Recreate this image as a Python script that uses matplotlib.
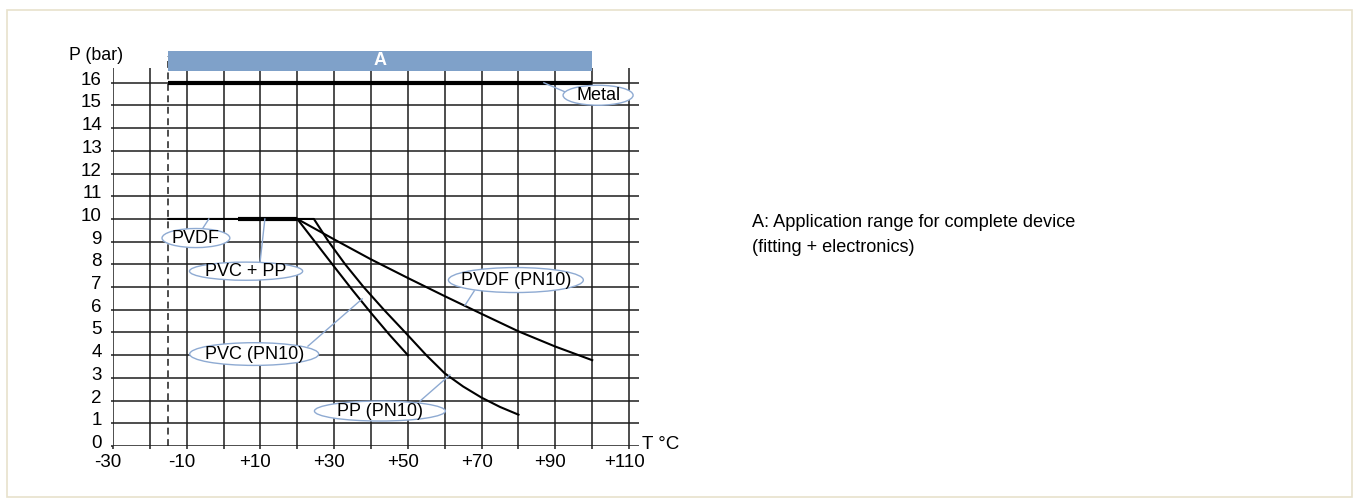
"""Pressure / temperature diagram for fitting materials."""

import matplotlib
matplotlib.use("Agg")

import matplotlib.pyplot as plt
from matplotlib.patches import Ellipse, Rectangle
from matplotlib.transforms import ScaledTranslation

plt.rcParams["font.family"] = ["Liberation Sans", "DejaVu Sans"]

# --- data (T in degC, P in bar) ---
metal_T = [-15, 100]
metal_P = [16, 16]

pvdf_T = [-15, 20, 30, 40, 50, 60, 70, 80, 90, 100]
pvdf_P = [10, 10, 9.1, 8.22, 7.4, 6.6, 5.82, 5.05, 4.38, 3.78]

pvc_pp_T = [4, 20]
pvc_pp_P = [10, 10]

pvc_T = [20, 25, 30, 35, 40, 45, 50]
pvc_P = [10, 8.95, 7.9, 6.86, 5.86, 4.9, 4.0]

pp_T = [20, 24.5, 28.5, 33, 38, 43.5, 49.3, 55, 60, 65, 70, 75, 80]
pp_P = [10, 10, 9.0, 8.0, 7.0, 6.0, 5.0, 4.0, 3.2, 2.62, 2.13, 1.72, 1.38]

range_A = [-15, 100]

x_ticks = list(range(-30, 111, 10))
x_labels = ["-30" if t == -30 else (f"{t:+d}" if (t + 30) % 20 == 0 else "") for t in x_ticks]
y_ticks = list(range(0, 17))

# --- label layout: text, centre (T, P), ellipse size, leader line ---
labels = [
    ("Metal", (101.6, 15.45), (19.0, 0.88), ((86.9, 16.0), (92.6, 15.6))),
    ("PVDF", (-7.5, 9.16), (18.4, 0.84), ((-4.0, 10.0), (-5.6, 9.6))),
    ("PVC + PP", (6.1, 7.7), (30.7, 0.8), ((11.2, 10.0), (9.9, 8.1))),
    ("PVC (PN10)", (8.3, 4.05), (35.0, 1.0), ((37.6, 6.48), (22.9, 4.4))),
    ("PP (PN10)", (42.4, 1.54), (35.5, 0.88), ((61.4, 3.13), (53.3, 1.98))),
    ("PVDF (PN10)", (79.3, 7.31), (36.6, 1.1), ((65.5, 6.2), (68.0, 6.83))),
]

GRID = "#1c1c1c"
BLUE = "#7fa1c9"
LEADER = "#8eaad2"

fig = plt.figure(figsize=(13.57, 5.0), dpi=100)
fig.patches.append(Rectangle((7 / 1357, 3 / 500), 1345 / 1357, 487 / 500,
                             transform=fig.transFigure, fill=False,
                             edgecolor="#e8e2cc", lw=1.2))

ax = fig.add_axes([113 / 1357, 1 - 446 / 500, 526 / 1357, 378 / 500])
ax.set_xlim(-30, 112.7)
ax.set_ylim(0, 16.65)

ax.set_xticks(x_ticks)
ax.set_xticklabels(x_labels)
ax.set_yticks(y_ticks)
ax.grid(True, color=GRID, lw=1.1)
ax.set_axisbelow(True)
for s in ax.spines.values():
    s.set_visible(False)
ax.tick_params(axis="x", length=2, width=1.1, color=GRID, pad=4, labelsize=13.5)
ax.tick_params(axis="y", length=1.5, width=1.1, color=GRID, pad=6.5, labelsize=13.5)

# tick labels sit a little off their grid lines in the original
xshift = ScaledTranslation(-5 / 100, 0, fig.dpi_scale_trans)
for lbl in ax.get_xticklabels():
    lbl.set_transform(lbl.get_transform() + xshift)
yshift = ScaledTranslation(0, 4.5 / 100, fig.dpi_scale_trans)
for lbl in ax.get_yticklabels():
    lbl.set_transform(lbl.get_transform() + yshift)

# application range bar and limit
ax.add_patch(Rectangle((range_A[0], 16.52), range_A[1] - range_A[0], 0.88,
                       facecolor=BLUE, edgecolor="none", clip_on=False, zorder=3))
ax.text(sum(range_A) / 2, 16.96, "A", color="white", fontsize=13,
        fontweight="bold", ha="center", va="center", zorder=4, clip_on=False)
ax.plot([range_A[0], range_A[0]], [0, 17.2], color=GRID, lw=1.1,
        dashes=(4.5, 3), clip_on=False, zorder=2)

# curves
ax.plot(metal_T, metal_P, color="black", lw=3.0, solid_capstyle="butt", zorder=3)
ax.plot(pvdf_T, pvdf_P, color="black", lw=1.5, zorder=3)
ax.plot(pvc_T, pvc_P, color="black", lw=1.5, zorder=3)
ax.plot(pp_T, pp_P, color="black", lw=1.5, zorder=3)
ax.plot(pvc_pp_T, pvc_pp_P, color="black", lw=3.0, solid_capstyle="butt", zorder=3)

# callout labels
for text, (cx, cy), (w, h), (p0, p1) in labels:
    ax.plot([p0[0], p1[0]], [p0[1], p1[1]], color=LEADER, lw=1.0, zorder=4,
            clip_on=False)
    ax.add_patch(Ellipse((cx, cy), w, h, facecolor="white", edgecolor=LEADER,
                         lw=1.0, zorder=5, clip_on=False))
    ax.text(cx, cy, text, fontsize=13, ha="center", va="center", zorder=6,
            clip_on=False)

ax.text(-27.3, 17.22, "P (bar)", fontsize=12.8, ha="right", va="center",
        clip_on=False)
ax.text(113.5, 0.05, "T °C", fontsize=13.5, ha="left", va="center",
        clip_on=False)

fig.text(752 / 1357, 1 - 235 / 500,
         "A: Application range for complete device\n(fitting + electronics)",
         fontsize=13.1, ha="left", va="center", linespacing=1.6)

fig.savefig("out.png", dpi=100)
